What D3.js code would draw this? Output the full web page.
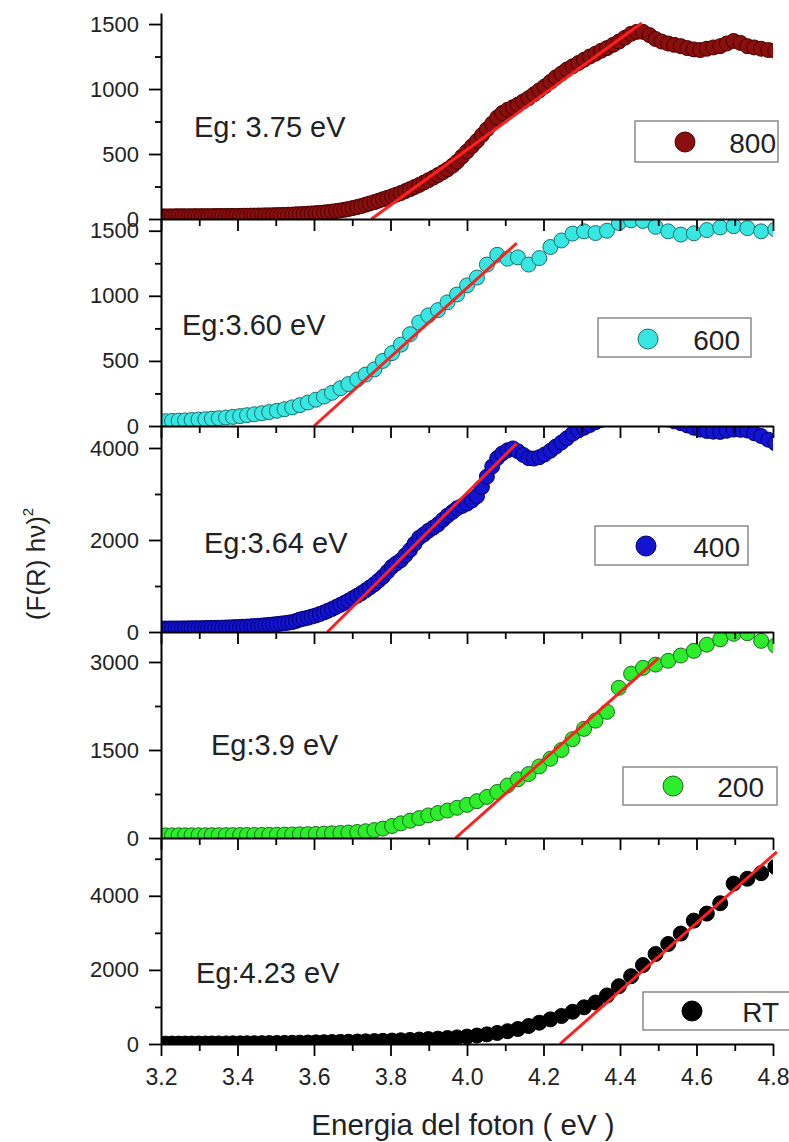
<!DOCTYPE html>
<html>
<head>
<meta charset="utf-8">
<script src="https://cdnjs.cloudflare.com/ajax/libs/d3/7.8.5/d3.min.js"></script>
<style>
  html, body { margin: 0; padding: 0; background: #fff; }
  svg { display: block; }
  text { font-family: "Liberation Sans", Arial, sans-serif; fill: #222; }
</style>
</head>
<body>
<svg id="chart" width="789" height="1142"></svg>
<script>
// ---------------- DATA ----------------
const energy = [3.196,3.212,3.229,3.246,3.263,3.280,3.298,3.316,3.333,3.351,
  3.370,3.388,3.407,3.425,3.444,3.464,3.483,3.503,3.523,3.543,
  3.563,3.584,3.605,3.626,3.647,3.669,3.690,3.713,3.735,3.758,
  3.780,3.804,3.827,3.851,3.875,3.899,3.924,3.949,3.974,4.000,
  4.026,4.052,4.079,4.106,4.133,4.161,4.189,4.218,4.247,4.276,
  4.306,4.336,4.366,4.397,4.429,4.460,4.493,4.526,4.559,4.593,
  4.627,4.662,4.697,4.733,4.769,4.806];

// extra in-between energies sampled by the denser 800 and 400 series
const energyMid = [3.204,3.221,3.238,3.255,3.272,3.289,3.307,3.324,3.342,3.360,
  3.379,3.397,3.416,3.435,3.454,3.473,3.493,3.513,3.533,3.553,
  3.573,3.594,3.615,3.636,3.658,3.680,3.701,3.724,3.746,3.769,
  3.792,3.815,3.839,3.863,3.887,3.912,3.937,3.962,3.987,4.013,
  4.039,4.066,4.092,4.120,4.147,4.175,4.203,4.232,4.261,4.291,
  4.321,4.351,4.382,4.413,4.444,4.477,4.509,4.542,4.576,4.610,
  4.644,4.679,4.715,4.751,4.788];

const v800 = [20,20,20,21,21,21,22,22,22,23,
  23,24,24,25,26,27,28,30,32,34,
  37,41,45,50,57,66,77,92,110,130,
  152,175,200,230,262,298,338,382,440,520,
  600,690,780,840,880,930,990,1055,1120,1175,
  1225,1272,1315,1365,1425,1440,1385,1350,1330,1305,
  1310,1330,1370,1330,1310,1295];
const v800Mid = [20,20,21,21,21,22,22,22,23,23,
  24,24,25,26,27,28,29,31,33,36,
  39,43,47,53,61,71,84,100,120,141,
  163,187,215,246,280,318,360,410,480,560,
  645,735,815,860,905,960,1020,1090,1150,1200,
  1250,1295,1340,1395,1440,1415,1365,1340,1315,1300,
  1320,1350,1355,1320,1300];

const v600 = [35,37,39,41,43,46,49,52,56,60,
  65,70,76,83,90,98,107,117,129,143,
  160,180,202,226,255,290,322,357,395,435,
  500,560,625,705,795,850,890,950,1010,1080,
  1140,1240,1315,1285,1295,1240,1290,1375,1425,1478,
  1495,1482,1500,1560,1580,1575,1530,1495,1470,1480,
  1505,1525,1535,1520,1495,1510];

const v400 = [75,75,76,77,78,80,82,85,88,92,
  97,103,110,118,128,140,155,172,192,215,
  270,310,360,425,500,590,680,790,905,1040,
  1200,1420,1560,1783,2050,2200,2340,2530,2690,2790,
  2950,3377,3780,3950,3930,3780,3800,3940,4120,4310,
  4440,4560,4650,4700,4720,4700,4680,4620,4540,4440,
  4370,4350,4400,4380,4260,4100];
const v400Mid = [75,76,76,78,79,81,83,86,90,94,
  100,106,114,123,134,147,163,182,203,240,
  290,335,390,460,545,635,735,845,970,1120,
  1310,1490,1670,1920,2120,2270,2440,2610,2740,2860,
  3150,3600,3880,3990,3850,3770,3860,4030,4210,4380,
  4500,4610,4680,4710,4710,4690,4650,4580,4490,4400,
  4355,4375,4395,4320,4180];

const v200 = [45,45,45,46,46,46,47,47,48,48,
  49,49,50,51,52,53,54,56,58,60,
  63,66,70,75,80,86,93,102,115,135,
  160,205,250,295,340,385,425,468,515,565,
  628,700,785,895,1000,1090,1220,1350,1500,1685,
  1860,2000,2150,2560,2800,2900,2955,3020,3110,3190,
  3295,3385,3480,3490,3360,3280];

const vRT = [10,10,11,11,12,12,13,13,14,15,
  16,17,18,19,21,23,25,27,30,33,
  36,40,44,48,52,57,62,67,72,78,
  85,92,100,110,120,132,145,160,178,200,
  228,260,298,345,405,485,575,665,755,870,
  990,1120,1310,1560,1830,2130,2430,2700,2980,3330,
  3520,3800,4330,4460,4610,4780];

const seriesNames = ["800", "600", "400", "200", "RT"];
const seriesValues = [v800, v600, v400, v200, vRT];
const seriesMidValues = [v800Mid, null, v400Mid, null, null];
const egLabels = ["Eg: 3.75 eV", "Eg:3.60 eV", "Eg:3.64 eV", "Eg:3.9 eV", "Eg:4.23 eV"];

// linear fit segments [E1, y1, E2, y2]
const fitLines = [
  [3.75, 0, 4.457, 1508],
  [3.60, 0, 4.13, 1405],
  [3.635, 0, 4.13, 4100],
  [3.97, 0, 4.50, 3063],
  [4.243, 0, 4.81, 5184]
];

const yMax = [1585, 1590, 4478, 3511, 5560];
const yMajorTicks = [[0,500,1000,1500],[0,500,1000,1500],[0,2000,4000],[0,1500,3000],[0,2000,4000]];
const yMinorTicks = [[250,750,1250],[250,750,1250],[1000,3000],[750,2250],[1000,3000,5000]];
const xMajorTicks = [3.2,3.4,3.6,3.8,4.0,4.2,4.4,4.6,4.8];
const xMinorTicks = [3.3,3.5,3.7,3.9,4.1,4.3,4.5,4.7];
const xDomain = [3.2, 4.8];

const xTitle = "Energia del foton ( eV )";
const yTitle = "(F(R) hν)";

// ---------------- STYLE / LAYOUT ----------------
const fills   = ["#8a0f0f", "#38e6e2", "#1414d0", "#2ded2d", "#000000"];
const strokes = ["#4a0000", "#1d6e6e", "#000070", "#1d6b1d", "#000000"];
const left = 161, right = 773;
const panelTops = [13, 219, 426, 632, 838];
const plotBottom = 1044;
const egPos = [[194,137],[182,335],[204,553],[211,755],[196,983]];
const legendBox = [[635,121,143,41],[598,318,153,39],[595,526,153,39],[623,767,154,38],[643,992,150,38]];
const legendMarker = [[685,142],[648,339],[646,546],[673,786],[692,1011]];
const legendText = [[776,153],[740,350],[740,557],[764,797],[779,1022]];

const svg = d3.select("#chart");
const x = d3.scaleLinear().domain(xDomain).range([left, right]);

const panels = seriesNames.map((name, i) => {
  const top = panelTops[i];
  const bottom = i < 4 ? panelTops[i + 1] : plotBottom;
  const y = d3.scaleLinear().domain([0, yMax[i]]).range([bottom, top]);
  return { name, i, top, bottom, y };
});

const defs = svg.append("defs");
panels.forEach(p => {
  defs.append("clipPath").attr("id", "clip" + p.i)
    .append("rect").attr("x", left).attr("y", p.top)
    .attr("width", right - left).attr("height", p.bottom - p.top);
});

// data + fit lines
panels.forEach(p => {
  const g = svg.append("g");
  let data = energy.map((e, k) => ({ e, v: seriesValues[p.i][k] }));
  const mid = seriesMidValues[p.i];
  if (mid) {
    data = data.concat(energyMid.map((e, k) => ({ e, v: mid[k] })));
    data.sort((a, b) => a.e - b.e);
  }
  g.append("g").attr("clip-path", `url(#clip${p.i})`)
    .selectAll("circle").data(data).join("circle")
    .attr("cx", d => x(d.e)).attr("cy", d => p.y(d.v))
    .attr("r", 7.5)
    .attr("fill", fills[p.i]).attr("stroke", strokes[p.i]).attr("stroke-width", 1);
  const f = fitLines[p.i];
  g.append("line")
    .attr("x1", x(f[0])).attr("y1", p.y(f[1]))
    .attr("x2", x(f[2])).attr("y2", p.y(f[3]))
    .attr("stroke", "#ff1f1f").attr("stroke-width", 3);
});

// axes
panels.forEach(p => {
  const isLast = p.i === 4;
  const yAx = svg.append("g").attr("transform", `translate(${left},0)`)
    .call(d3.axisLeft(p.y).tickValues(yMajorTicks[p.i]).tickFormat(d3.format("d"))
      .tickSize(12).tickSizeOuter(0).tickPadding(10));
  yAx.selectAll("text").style("font-size", "22px").attr("fill", "#222");
  const yMin = svg.append("g").attr("transform", `translate(${left},0)`)
    .call(d3.axisLeft(p.y).tickValues(yMinorTicks[p.i]).tickFormat("").tickSize(6).tickSizeOuter(0));
  yMin.select(".domain").remove();
  const xAx = svg.append("g").attr("transform", `translate(0,${p.bottom})`)
    .call(d3.axisBottom(x).tickValues(xMajorTicks)
      .tickFormat(isLast ? d3.format(".1f") : () => "")
      .tickSize(12).tickSizeOuter(0).tickPadding(13));
  xAx.selectAll("text").style("font-size", "23px").attr("fill", "#222");
  const xMin = svg.append("g").attr("transform", `translate(0,${p.bottom})`)
    .call(d3.axisBottom(x).tickValues(xMinorTicks).tickFormat("").tickSize(7).tickSizeOuter(0));
  xMin.select(".domain").remove();
});
svg.selectAll(".domain").attr("stroke", "#000").attr("stroke-width", 2);
svg.selectAll(".tick line").attr("stroke", "#000").attr("stroke-width", 1.8);

// Eg labels and legends
panels.forEach(p => {
  svg.append("text").attr("x", egPos[p.i][0]).attr("y", egPos[p.i][1])
    .style("font-size", "29px").attr("fill", "#333").text(egLabels[p.i]);
  const b = legendBox[p.i];
  svg.append("rect").attr("x", b[0]).attr("y", b[1]).attr("width", b[2]).attr("height", b[3])
    .attr("fill", "#fff").attr("stroke", "#8a8a8a").attr("stroke-width", 1.5);
  svg.append("circle").attr("cx", legendMarker[p.i][0]).attr("cy", legendMarker[p.i][1])
    .attr("r", 10).attr("fill", fills[p.i]).attr("stroke", strokes[p.i]).attr("stroke-width", 1);
  svg.append("text").attr("x", legendText[p.i][0]).attr("y", legendText[p.i][1])
    .attr("text-anchor", "end").style("font-size", "28px").attr("fill", "#333").text(p.name);
});

// axis titles
svg.append("text").attr("x", 463).attr("y", 1135).attr("text-anchor", "middle")
  .style("font-size", "29.5px").attr("fill", "#333").text(xTitle);
const yt = svg.append("text").attr("transform", "translate(45,564) rotate(-90)")
  .attr("text-anchor", "middle").style("font-size", "26px").attr("fill", "#333");
yt.append("tspan").text(yTitle);
yt.append("tspan").attr("dy", -12).style("font-size", "15px").text("2");
</script>
</body>
</html>
